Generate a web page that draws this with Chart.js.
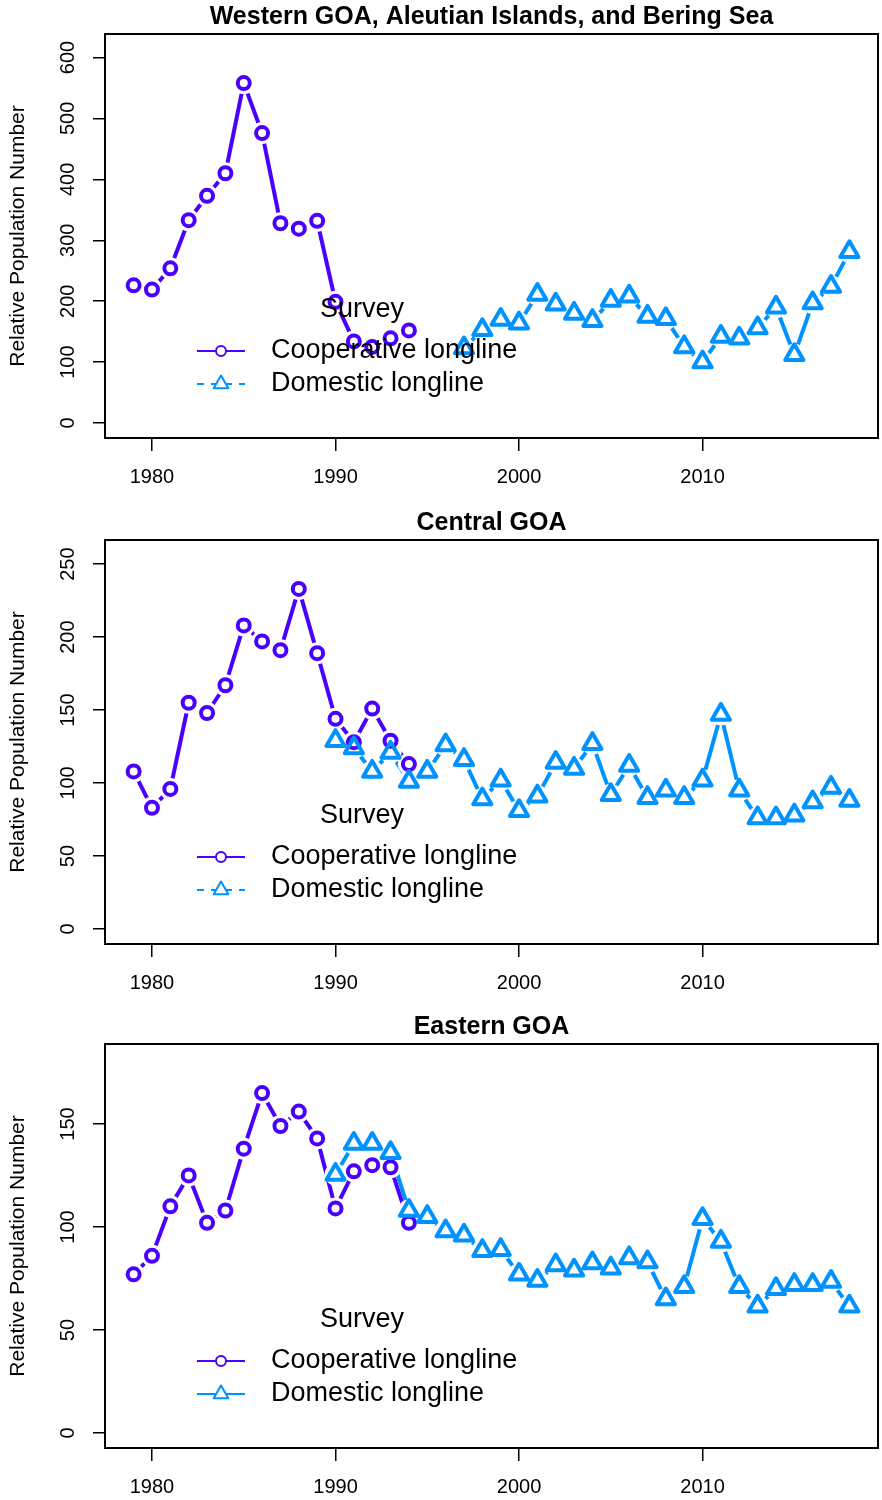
<!DOCTYPE html>
<html>
<head>
<meta charset="utf-8">
<script src="https://cdn.jsdelivr.net/npm/chart.js@4.4.1/dist/chart.umd.min.js"></script>
<style>
  html, body { margin: 0; padding: 0; background: #fff; }
  #wrap { position: relative; width: 882px; height: 1500px; }
  canvas { position: absolute; left: 0; }
</style>
</head>
<body>
<div id="wrap">
  <canvas id="wgoa" width="882" height="490" style="top:0px"></canvas>
  <canvas id="cgoa" width="882" height="490" style="top:506px"></canvas>
  <canvas id="egoa" width="882" height="490" style="top:1010px"></canvas>
</div>
<script>
// survey years
const coopYears = [1979, 1980, 1981, 1982, 1983, 1984, 1985, 1986, 1987, 1988, 1989, 1990, 1991, 1992, 1993, 1994];
const domYearsWest = [1997, 1998, 1999, 2000, 2001, 2002, 2003, 2004, 2005, 2006, 2007, 2008, 2009, 2010, 2011, 2012, 2013, 2014, 2015, 2016, 2017, 2018];
const domYearsGoa = [1990, 1991, 1992, 1993, 1994, 1995, 1996, 1997, 1998, 1999, 2000, 2001, 2002, 2003, 2004, 2005, 2006, 2007, 2008, 2009, 2010, 2011, 2012, 2013, 2014, 2015, 2016, 2017, 2018];

// Western GOA, Aleutian Islands, and Bering Sea
const westCoop = [226, 219, 254, 333, 373, 410, 558, 476, 328, 319, 332, 199, 134, 125, 139, 152];
const westDom = [123, 153, 170, 164, 211, 195, 180, 168, 201, 208, 175, 171, 125, 100, 142, 139, 156, 190, 112, 197, 224, 281];

// Central GOA
const centralCoop = [108, 83, 96, 155, 148, 167, 208, 197, 191, 233, 189, 144, 128, 151, 129, 113];
const centralDom = [129, 124, 108, 121, 101, 108, 126, 116, 89, 102, 81, 91, 114, 110, 127, 92, 112, 90, 95, 90, 102, 147, 95, 76, 76, 78, 87, 97, 88];

// Eastern GOA
const eastCoop = [77, 86, 110, 125, 102, 108, 138, 165, 149, 156, 143, 109, 127, 130, 129, 102];
const eastDom = [125.5, 140.5, 140.5, 136, 108, 105, 98, 96, 88.5, 89, 77, 74, 81.5, 79, 82.5, 80, 85, 83, 65, 71, 104, 93, 71, 61.5, 70, 72, 72, 73.5, 61.5];

const seriesNames = ['Cooperative longline', 'Domestic longline'];
const legendTitle = 'Survey';
const yTitle = 'Relative Population Number';

const COOP = '#4900FF';
const DOM = '#0092FF';
const FONT = '"Liberation Sans", Arial, Helvetica, sans-serif';

// x range like R's default 4% padding around 1979-2018
const X_MIN = 1977.44;
const X_MAX = 2019.56;

function toPoints(years, vals) {
    return years.map((yr, i) => ({ x: yr, y: vals[i] }));
}

// round joins for markers, like R
const joinPlugin = {
    id: 'roundJoin',
    beforeDatasetsDraw(chart) {
        chart.ctx.save();
        chart.ctx.lineJoin = 'round';
    },
    afterDatasetsDraw(chart) {
        chart.ctx.restore();
    }
};

// plot box
const boxPlugin = {
    id: 'rBox',
    afterDatasetsDraw(chart) {
        const { ctx, chartArea: a } = chart;
        ctx.save();
        ctx.strokeStyle = '#000';
        ctx.lineWidth = 2;
        ctx.strokeRect(a.left, a.top, a.right - a.left, a.bottom - a.top);
        ctx.restore();
    }
};

// legend inside the plot, R style
const legendPlugin = {
    id: 'rLegend',
    afterDraw(chart, args, opts) {
        const { ctx, chartArea: a } = chart;
        const x0 = a.left + 92, x1 = a.left + 140, xm = a.left + 116, xt = a.left + 166;
        ctx.save();
        ctx.font = '27px ' + FONT;
        ctx.fillStyle = '#000';
        ctx.textBaseline = 'middle';
        ctx.textAlign = 'center';
        ctx.fillText(legendTitle, a.left + 257, a.bottom - 128);
        opts.items.forEach((it, i) => {
            const y = a.bottom - 87 + i * 33;
            ctx.strokeStyle = it.color;
            ctx.lineWidth = 2;
            ctx.setLineDash(it.dash || []);
            ctx.beginPath();
            ctx.moveTo(x0, y);
            ctx.lineTo(x1, y);
            ctx.stroke();
            ctx.setLineDash([]);
            ctx.fillStyle = '#fff';
            ctx.lineJoin = 'round';
            Chart.helpers.drawPoint(ctx, { pointStyle: it.style, radius: it.radius, borderWidth: 2, rotation: 0 }, xm, y);
            ctx.fillStyle = '#000';
            ctx.textAlign = 'left';
            ctx.fillText(it.label, xt, y);
        });
        ctx.restore();
    }
};

function makePanel(id, title, coopPts, domPts, yMin, yMax, yStep, domDash) {
    const datasets = [
        { label: seriesNames[0], data: coopPts, borderColor: COOP, borderWidth: 4, pointRadius: 0, borderJoinStyle: 'round', order: 6 },
        { label: seriesNames[1], data: domPts, borderColor: DOM, borderWidth: 4, pointRadius: 0, borderJoinStyle: 'round', order: 5 },
        // white gaps around the markers (type = "b")
        { label: 'gap', data: coopPts, showLine: false, pointRadius: 11, pointBorderWidth: 0, pointBackgroundColor: '#fff', order: 4 },
        { label: 'gap', data: domPts, showLine: false, pointRadius: 11, pointBorderWidth: 0, pointBackgroundColor: '#fff', order: 3 },
        { label: seriesNames[0], data: coopPts, showLine: false, pointStyle: 'circle', pointRadius: 6, pointBorderWidth: 4,
          pointBorderColor: COOP, pointBackgroundColor: 'rgba(0,0,0,0)', order: 2 },
        { label: seriesNames[1], data: domPts, showLine: false, pointStyle: 'triangle', pointRadius: 10.5, pointBorderWidth: 4,
          pointBorderColor: DOM, pointBackgroundColor: 'rgba(0,0,0,0)', order: 1 }
    ];

    return new Chart(document.getElementById(id), {
        type: 'line',
        data: { datasets: datasets },
        plugins: [joinPlugin, boxPlugin, legendPlugin],
        options: {
            responsive: false,
            animation: false,
            layout: { autoPadding: false, padding: { left: 0, right: 4, top: 0, bottom: 0 } },
            plugins: {
                legend: { display: false },
                tooltip: { enabled: false },
                title: {
                    display: true,
                    text: title,
                    fullSize: false,
                    color: '#000',
                    font: { family: FONT, size: 25, weight: 'bold' },
                    padding: { top: 2, bottom: 2 }
                },
                rLegend: {
                    items: [
                        { label: seriesNames[0], color: COOP, style: 'circle', radius: 5 },
                        { label: seriesNames[1], color: DOM, style: 'triangle', radius: 8.5, dash: domDash }
                    ]
                }
            },
            scales: {
                x: {
                    type: 'linear',
                    min: X_MIN,
                    max: X_MAX,
                    border: { display: false },
                    grid: { drawOnChartArea: false, drawTicks: true, tickLength: 13, color: '#000', lineWidth: 1.5 },
                    ticks: {
                        stepSize: 10,
                        includeBounds: false,
                        autoSkip: false,
                        maxRotation: 0,
                        padding: 14,
                        color: '#000',
                        font: { family: FONT, size: 20 },
                        callback: v => String(v)
                    },
                    afterFit: s => {
                        s.height = 52;
                        s.paddingLeft = 0;
                        s.paddingRight = 0;
                    }
                },
                y: {
                    type: 'linear',
                    min: yMin,
                    max: yMax,
                    border: { display: false },
                    grid: { drawOnChartArea: false, drawTicks: true, tickLength: 12, color: '#000', lineWidth: 1.5 },
                    ticks: {
                        stepSize: yStep,
                        includeBounds: false,
                        minRotation: 90,
                        maxRotation: 90,
                        crossAlign: 'center',
                        padding: 8,
                        color: '#000',
                        font: { family: FONT, size: 20 },
                        callback: v => String(v)
                    },
                    title: {
                        display: true,
                        text: yTitle,
                        color: '#000',
                        font: { family: FONT, size: 21 },
                        padding: { top: 6, bottom: 0 }
                    },
                    afterFit: s => {
                        s.width = 105;
                        s.paddingTop = 0;
                        s.paddingBottom = 0;
                    }
                }
            }
        }
    });
}

makePanel('wgoa', 'Western GOA, Aleutian Islands, and Bering Sea',
    toPoints(coopYears, westCoop), toPoints(domYearsWest, westDom), -24.56, 638.6, 100, [7, 7]);
makePanel('cgoa', 'Central GOA',
    toPoints(coopYears, centralCoop), toPoints(domYearsGoa, centralDom), -10.25, 266.5, 50, [7, 7]);
makePanel('egoa', 'Eastern GOA',
    toPoints(coopYears, eastCoop), toPoints(domYearsGoa, eastDom), -7.26, 188.8, 50, null);
</script>
</body>
</html>
